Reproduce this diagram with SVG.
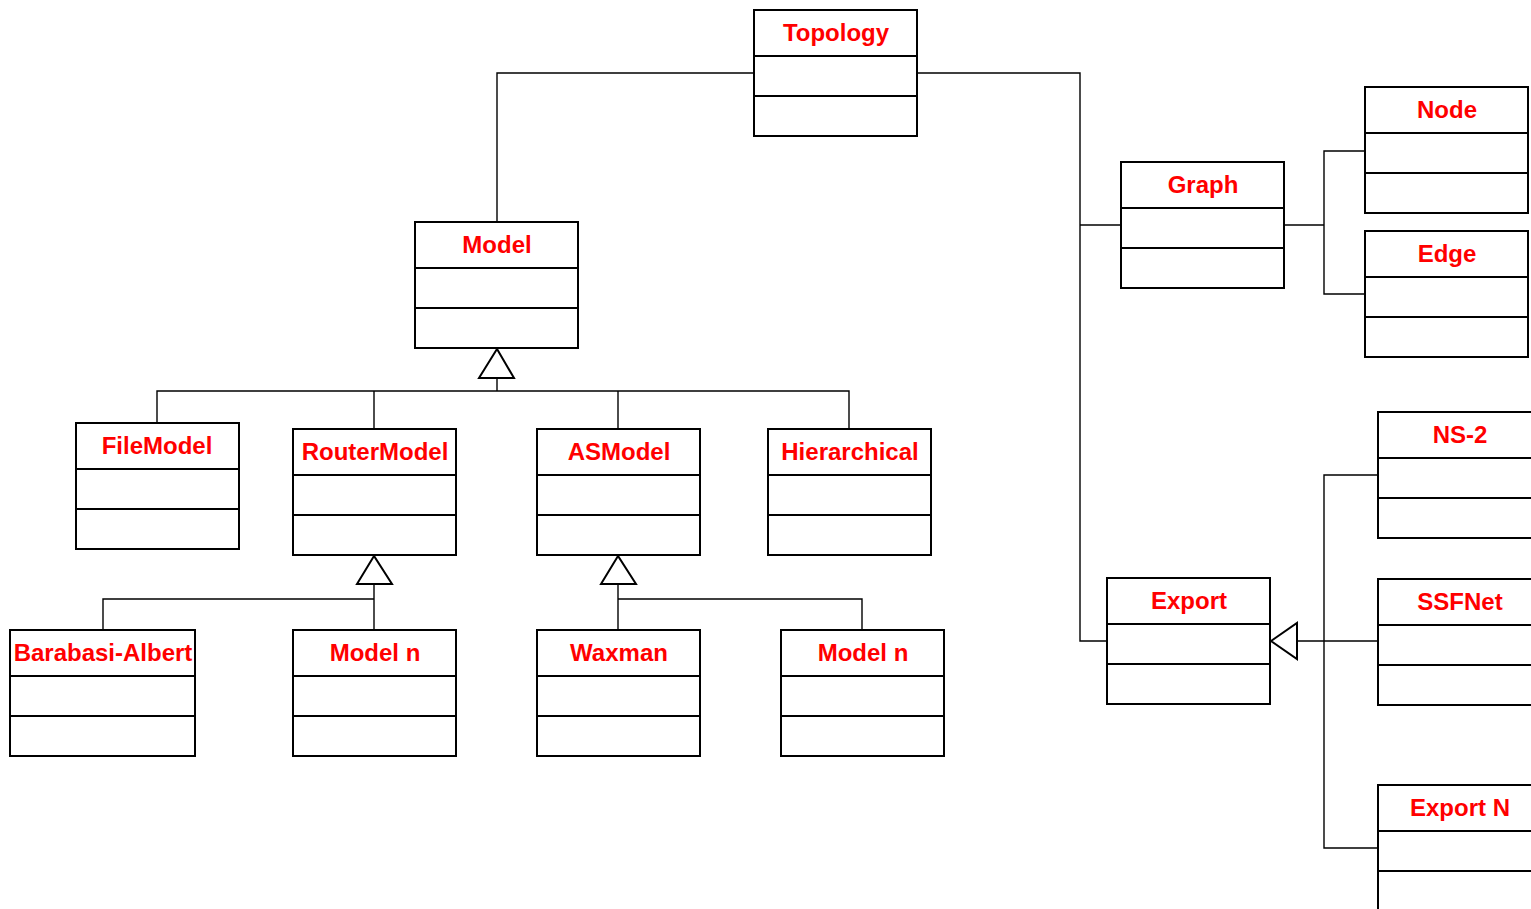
<svg xmlns="http://www.w3.org/2000/svg" width="1531" height="909" viewBox="0 0 1531 909">
  <style>
    .box { fill: #fff; stroke: #000; stroke-width: 2; }
    .div { stroke: #000; stroke-width: 2; }
    .title { font-family: "Liberation Sans", Arial, sans-serif; font-weight: bold; font-size: 24px; fill: #ff0000; text-anchor: middle; }
    .conn { fill: none; stroke: #000; stroke-width: 1.4; }
    .tri { fill: #fff; stroke: #000; stroke-width: 2; }
  </style>
  <defs>
    <!-- class box: 163 x 126, three compartments -->
    <g id="cls">
      <rect class="box" x="0" y="0" width="163" height="126"/>
      <line class="div" x1="0" y1="46" x2="163" y2="46"/>
      <line class="div" x1="0" y1="86" x2="163" y2="86"/>
    </g>
    <g id="clsWide">
      <rect class="box" x="0" y="0" width="185" height="126"/>
      <line class="div" x1="0" y1="46" x2="185" y2="46"/>
      <line class="div" x1="0" y1="86" x2="185" y2="86"/>
    </g>
  </defs>

  <g id="connectors">
    <!-- Topology to Model -->
    <polyline class="conn" points="754,73 497,73 497,222"/>
    <!-- Topology to Graph / Export -->
    <polyline class="conn" points="917,73 1080,73 1080,641 1107,641"/>
    <line class="conn" x1="1080" y1="225" x2="1121" y2="225"/>
    <!-- Graph to Node / Edge -->
    <line class="conn" x1="1284" y1="225" x2="1324" y2="225"/>
    <polyline class="conn" points="1365,151 1324,151 1324,294 1365,294"/>
    <!-- Model generalization -->
    <line class="conn" x1="497" y1="378" x2="497" y2="391"/>
    <polyline class="conn" points="157,423 157,391 849,391 849,429"/>
    <line class="conn" x1="374" y1="391" x2="374" y2="429"/>
    <line class="conn" x1="618" y1="391" x2="618" y2="429"/>
    <polygon class="tri" points="497,349 479,378 514,378"/>
    <!-- RouterModel generalization -->
    <line class="conn" x1="374" y1="584" x2="374" y2="630"/>
    <polyline class="conn" points="103,630 103,599 374,599"/>
    <polygon class="tri" points="374,556 357,584 392,584"/>
    <!-- ASModel generalization -->
    <line class="conn" x1="618" y1="584" x2="618" y2="630"/>
    <polyline class="conn" points="618,599 862,599 862,630"/>
    <polygon class="tri" points="618,556 601,584 636,584"/>
    <!-- Export generalization -->
    <line class="conn" x1="1297" y1="641" x2="1378" y2="641"/>
    <polyline class="conn" points="1378,475 1324,475 1324,848 1378,848"/>
    <polygon class="tri" points="1271,641 1297,623 1297,659"/>
  </g>

  <g id="topology"><use href="#cls" x="754" y="10"/><text class="title" x="836" y="41">Topology</text></g>
  <g id="model"><use href="#cls" x="415" y="222"/><text class="title" x="497" y="253">Model</text></g>
  <g id="filemodel"><use href="#cls" x="76" y="423"/><text class="title" x="157" y="454">FileModel</text></g>
  <g id="routermodel"><use href="#cls" x="293" y="429"/><text class="title" x="375" y="460">RouterModel</text></g>
  <g id="asmodel"><use href="#cls" x="537" y="429"/><text class="title" x="619" y="460">ASModel</text></g>
  <g id="hierarchical"><use href="#cls" x="768" y="429"/><text class="title" x="850" y="460">Hierarchical</text></g>
  <g id="barabasi"><use href="#clsWide" x="10" y="630"/><text class="title" x="103" y="661">Barabasi-Albert</text></g>
  <g id="routermodel-n"><use href="#cls" x="293" y="630"/><text class="title" x="375" y="661">Model n</text></g>
  <g id="waxman"><use href="#cls" x="537" y="630"/><text class="title" x="619" y="661">Waxman</text></g>
  <g id="asmodel-n"><use href="#cls" x="781" y="630"/><text class="title" x="863" y="661">Model n</text></g>
  <g id="graph"><use href="#cls" x="1121" y="162"/><text class="title" x="1203" y="193">Graph</text></g>
  <g id="node"><use href="#cls" x="1365" y="87"/><text class="title" x="1447" y="118">Node</text></g>
  <g id="edge"><use href="#cls" x="1365" y="231"/><text class="title" x="1447" y="262">Edge</text></g>
  <g id="export"><use href="#cls" x="1107" y="578"/><text class="title" x="1189" y="609">Export</text></g>
  <g id="ns2"><use href="#cls" x="1378" y="412"/><text class="title" x="1460" y="443">NS-2</text></g>
  <g id="ssfnet"><use href="#cls" x="1378" y="579"/><text class="title" x="1460" y="610">SSFNet</text></g>
  <g id="exportn"><use href="#cls" x="1378" y="785"/><text class="title" x="1460" y="816">Export N</text></g>
</svg>
